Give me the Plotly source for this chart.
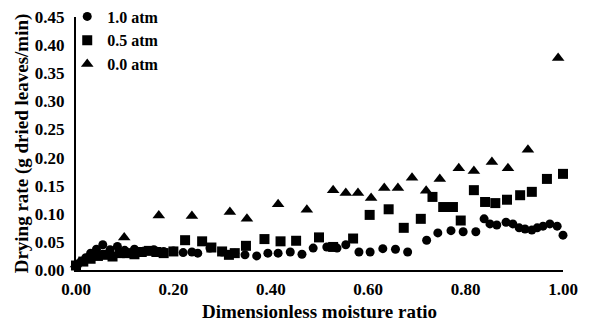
import plotly.graph_objects as go

# 1.0 atm (circles)
x_10 = [0.000, 0.010, 0.020, 0.030, 0.042, 0.055, 0.070, 0.085, 0.100, 0.120,
        0.140, 0.160, 0.180, 0.200, 0.220, 0.238, 0.250, 0.275, 0.300, 0.326,
        0.347, 0.371, 0.394, 0.415, 0.440, 0.464, 0.487, 0.515, 0.536, 0.554,
        0.581, 0.604, 0.630, 0.656, 0.681, 0.720, 0.743, 0.770, 0.795, 0.821,
        0.838, 0.850, 0.864, 0.883, 0.897, 0.910, 0.922, 0.936, 0.947, 0.959,
        0.973, 0.988, 1.000]
y_10 = [0.008, 0.015, 0.022, 0.030, 0.037, 0.045, 0.036, 0.042, 0.035, 0.037,
        0.034, 0.036, 0.033, 0.034, 0.031, 0.032, 0.030, 0.039, 0.032, 0.030,
        0.027, 0.025, 0.030, 0.030, 0.032, 0.028, 0.039, 0.041, 0.039, 0.045,
        0.032, 0.032, 0.038, 0.037, 0.032, 0.053, 0.066, 0.070, 0.068, 0.068,
        0.091, 0.082, 0.080, 0.085, 0.082, 0.075, 0.073, 0.071, 0.075, 0.078,
        0.082, 0.078, 0.062]

# 0.5 atm (squares)
x_05 = [0.000, 0.015, 0.030, 0.045, 0.060, 0.075, 0.090, 0.105, 0.120, 0.135,
        0.150, 0.165, 0.180, 0.200, 0.224, 0.259, 0.278, 0.300, 0.314, 0.326,
        0.349, 0.387, 0.420, 0.452, 0.499, 0.528, 0.569, 0.603, 0.642, 0.673,
        0.708, 0.732, 0.754, 0.774, 0.790, 0.817, 0.840, 0.861, 0.885, 0.912,
        0.936, 0.967, 1.000]
y_05 = [0.008, 0.015, 0.020, 0.025, 0.027, 0.024, 0.030, 0.030, 0.028, 0.032,
        0.034, 0.032, 0.030, 0.033, 0.053, 0.051, 0.040, 0.033, 0.027, 0.030,
        0.043, 0.055, 0.051, 0.052, 0.058, 0.041, 0.056, 0.098, 0.108, 0.075,
        0.091, 0.130, 0.112, 0.112, 0.088, 0.142, 0.121, 0.119, 0.125, 0.133,
        0.139, 0.162, 0.171]

# 0.0 atm (triangles)
x_00 = [0.000, 0.099, 0.170, 0.238, 0.316, 0.351, 0.415, 0.474, 0.528, 0.554,
        0.579, 0.606, 0.633, 0.661, 0.690, 0.719, 0.747, 0.786, 0.817, 0.854,
        0.887, 0.928, 0.990]
y_00 = [0.010, 0.058, 0.097, 0.096, 0.103, 0.091, 0.117, 0.107, 0.142, 0.137,
        0.137, 0.128, 0.146, 0.146, 0.164, 0.141, 0.162, 0.181, 0.176, 0.192,
        0.181, 0.214, 0.377]

x_ticks = [0.0, 0.2, 0.4, 0.6, 0.8, 1.0]
x_ticklabels = ["0.00", "0.20", "0.40", "0.60", "0.80", "1.00"]
y_ticks = [0.0, 0.05, 0.10, 0.15, 0.20, 0.25, 0.30, 0.35, 0.40, 0.45]
y_ticklabels = ["0.00", "0.05", "0.10", "0.15", "0.20", "0.25", "0.30", "0.35", "0.40", "0.45"]

FONT = "Liberation Serif"

fig = go.Figure()
fig.add_trace(go.Scatter(x=x_10, y=y_10, mode="markers", name="1.0 atm",
                         marker=dict(symbol="circle", size=9, color="black"),
                         cliponaxis=False))
fig.add_trace(go.Scatter(x=x_05, y=y_05, mode="markers", name="0.5 atm",
                         marker=dict(symbol="square", size=10, color="black"),
                         cliponaxis=False))
fig.add_trace(go.Scatter(x=x_00, y=y_00, mode="markers", name="0.0 atm",
                         marker=dict(symbol="triangle-up", size=11, color="black"),
                         cliponaxis=False))

fig.update_layout(
    width=590, height=324,
    margin=dict(l=76, r=27, t=17, b=54, autoexpand=False),
    paper_bgcolor="white", plot_bgcolor="white",
    font=dict(family=FONT, color="black", size=17, weight="bold"),
    showlegend=True,
    legend=dict(x=-0.018, y=1.069, xanchor="left", yanchor="top",
                bgcolor="rgba(0,0,0,0)", traceorder="normal",
                font=dict(family=FONT, size=16, color="black", weight="bold")),
    xaxis=dict(range=[0, 1], tickvals=x_ticks, ticktext=x_ticklabels,
               showgrid=False, zeroline=False, showline=True,
               linecolor="black", linewidth=2, ticks="",
               ticklabelstandoff=3, automargin=False,
               tickfont=dict(family=FONT, size=17, weight="bold"),
               title=dict(text="Dimensionless moisture ratio", standoff=6,
                          font=dict(family=FONT, size=19, weight="bold"))),
    yaxis=dict(range=[0, 0.45], tickvals=y_ticks, ticktext=y_ticklabels,
               showgrid=False, zeroline=False, showline=True,
               linecolor="black", linewidth=2, ticks="",
               ticklabelstandoff=6, automargin=False,
               tickfont=dict(family=FONT, size=17, weight="bold"),
               title=dict(text="Drying rate (g dried leaves/min)", standoff=1,
                          font=dict(family=FONT, size=19, weight="bold"))),
)

fig.write_html("out.html")
